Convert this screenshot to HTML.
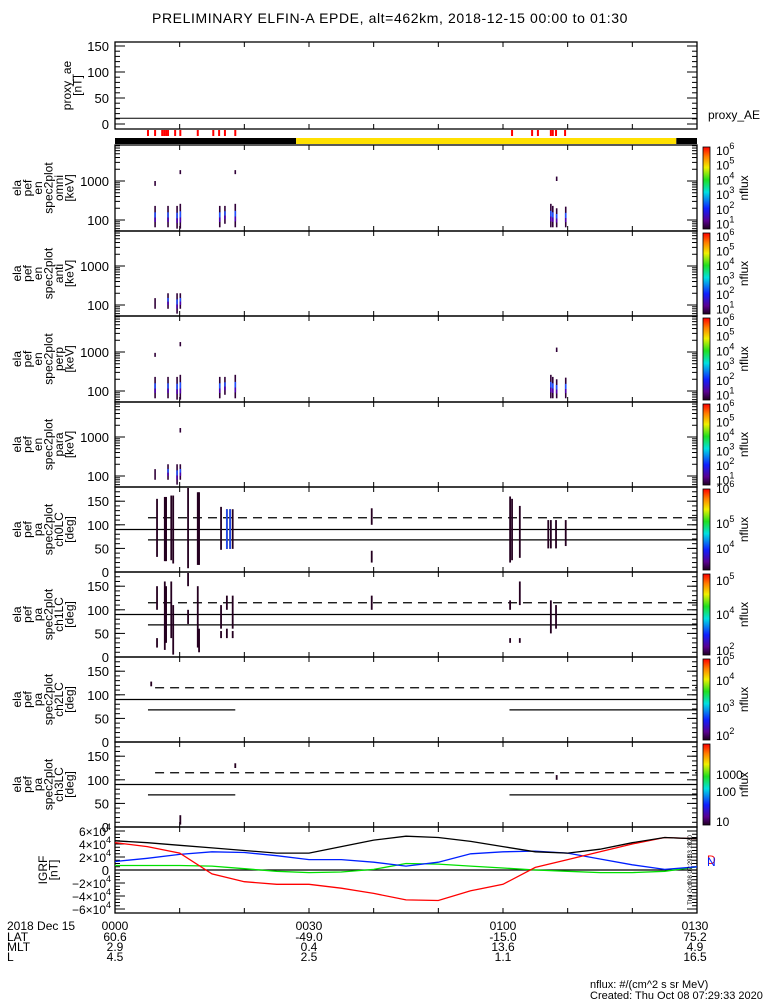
<!DOCTYPE html>
<html><head><meta charset="utf-8">
<style>
body{margin:0;background:#fff;overflow:hidden;}
svg{display:block;font-family:"Liberation Sans",sans-serif;}
</style></head>
<body>
<svg id="chart" width="775" height="1000" viewBox="0 0 775 1000" xmlns="http://www.w3.org/2000/svg">
<defs>
<linearGradient id="cmap" x1="0" y1="1" x2="0" y2="0">
<stop offset="0" stop-color="#200020"/><stop offset="0.1" stop-color="#5a0090"/><stop offset="0.25" stop-color="#1020ff"/>
<stop offset="0.45" stop-color="#00e0e0"/><stop offset="0.6" stop-color="#20e020"/><stop offset="0.75" stop-color="#f0f000"/>
<stop offset="0.88" stop-color="#ff8000"/><stop offset="1" stop-color="#ff0000"/>
</linearGradient>
<clipPath id="igrfclip"><rect x="115" y="827" width="582" height="86"/></clipPath>
</defs>
<text x="390" y="23" font-size="14" text-anchor="middle" letter-spacing="0.6">PRELIMINARY ELFIN-A EPDE, alt=462km, 2018-12-15 00:00 to 01:30</text>
<g id="g"></g>
</svg>
<script>
// ---- data ----
const timeTicks = [0,30,60,90];
const timeLabels = ["0000","0030","0100","0130"];
const latLabels = ["60.6","-49.0","-15.0","75.2"];
const mltLabels = ["2.9","0.4","13.6","4.9"];
const lLabels = ["4.5","2.5","1.1","16.5"];
const aeValue = 11;
const sciZoneTimes = [5.1,6.2,7.3,7.6,7.9,8.2,9.3,10.1,12.8,15.2,16.1,17.0,18.6,61.4,64.5,65.4,67.4,67.7,68.2,69.6];
const barSegStart = [0,28,86.8];
const barSegEnd = [28,86.8,90];
const barSegColor = ["#000","#ffe000","#000"];
const omniSpikes = [[6.2,65,230],[6.2,750,1000],[8.2,65,230],[9.6,60,230],[10.1,60,260],[10.1,1500,1900],[16.2,65,230],[17.0,80,230],[18.6,65,260],[18.6,1500,1900],[67.4,65,260],[67.7,65,230],[68.3,1000,1300],[68.3,65,200],[69.7,65,220]];
const antiSpikes = [[6.2,80,150],[8.2,80,200],[9.6,60,200],[10.1,80,200]];
const perpSpikes = [[6.2,65,230],[6.2,750,950],[8.2,65,230],[9.6,60,230],[10.1,60,260],[10.1,1400,1800],[16.2,65,230],[17.0,80,230],[18.6,65,260],[67.4,65,260],[67.7,65,230],[68.3,1000,1300],[68.3,65,200],[69.7,65,220]];
const paraSpikes = [[6.2,80,150],[8.2,80,200],[9.6,60,200],[10.1,80,200],[10.1,1300,1700]];
const ch0Spikes = [[6.5,32,155],[7.7,23,159],[7.9,23,159],[8.7,25,162],[9.0,18,162],[11.3,8,178],[12.8,15,169],[13.0,15,169],[16.4,47,138],[17.3,49,133],[17.8,49,133],[18.2,49,133],[39.7,100,135],[39.7,20,45],[61.1,20,160],[61.4,25,155],[62.6,30,140],[67.0,50,110],[67.4,50,110],[68.2,50,110],[69.7,55,110]];
const ch1Spikes = [[6.5,100,150],[6.5,20,40],[7.7,15,160],[7.9,30,150],[8.7,40,160],[9.0,5,110],[11.3,150,178],[11.3,70,100],[12.8,20,150],[13.0,10,60],[16.4,60,110],[16.4,40,55],[17.3,100,130],[17.3,40,60],[18.2,60,130],[18.2,40,55],[39.7,100,130],[61.1,30,40],[61.1,100,120],[62.6,30,40],[62.6,110,160],[67.4,50,120],[68.2,60,110]];
const ch2Spikes = [[5.6,118,128]];
const ch3Spikes = [[10.1,5,25],[18.6,125,135],[68.3,100,110]];
const paLines = [
 {lossStart:[5.1],lossEnd:[90],dashStart:5.1},
 {lossStart:[5.1],lossEnd:[90],dashStart:5.1},
 {lossStart:[5.1,61],lossEnd:[18.6,90],dashStart:6.2},
 {lossStart:[5.1,61],lossEnd:[18.6,90],dashStart:6.2}];
const lossConePA = 68, trappedPA = 115;
const igrfTimes = [0,5,10,15,20,25,30,35,40,45,50,55,60,65,70,75,80,85,90];
const igrfTotal = [4.5,4.2,3.8,3.4,3.0,2.6,2.6,3.6,4.6,5.2,5.0,4.4,3.6,2.8,2.6,3.2,4.2,5.0,4.8];
const igrfD = [4.2,3.6,2.6,-0.6,-1.8,-2.2,-2.2,-2.8,-3.6,-4.6,-4.7,-3.2,-2.2,0.4,1.6,2.8,4.0,5.0,4.8];
const igrfN = [1.3,1.8,2.4,2.8,2.7,2.2,1.6,1.6,1.2,0.6,1.2,2.5,2.8,2.9,2.6,1.7,0.8,0.1,0.5];
const igrfE = [0.7,0.7,0.7,0.6,0.2,-0.2,-0.4,-0.3,0.1,1.0,0.9,0.6,0.3,0.0,-0.2,-0.4,-0.4,-0.2,0.5];

// ---- geometry ----
const X0=115, X1=697;
const xT = t => X0 + t*(X1-X0)/90;
const g = document.getElementById('g');
const NS='http://www.w3.org/2000/svg';
function el(tag, attrs, parent){const e=document.createElementNS(NS,tag);for(const k in attrs)e.setAttribute(k,attrs[k]);(parent||g).appendChild(e);return e;}
function line(x1,y1,x2,y2,stroke,w,extra){return el('line',Object.assign({x1,y1,x2,y2,stroke:stroke||'#000','stroke-width':w||1},extra||{}));}
function txt(x,y,s,size,anchor,parent){const t=el('text',{x,y,'font-size':size||12,'text-anchor':anchor||'start'},parent);t.textContent=s;return t;}

function frame(top,bot,name){
  const r=el('rect',{x:X0,y:top,width:X1-X0,height:bot-top,fill:'none',stroke:'#000','stroke-width':1.3});
  
  
  for(let t=0;t<=90;t+=10){const x=xT(t);line(x,bot,x,bot-5);line(x,top,x,top+5);}
}
function rotLabel(lines,cx,cy,name){
  const gg=el('g',{transform:`translate(${cx},${cy}) rotate(-90)`});
  
  
  const n=lines.length;
  lines.forEach((s,i)=>{txt(0,(i-(n-1)/2)*10.5+4,s,12,'middle',gg);});
}
function yTicks(top,bot,yf,majors,minors,labelFn){
  minors.forEach(v=>{const y=yf(v);if(y<top-0.5||y>bot+0.5)return;line(X0,y,X0+5,y);line(X1,y,X1-5,y);});
  majors.forEach(v=>{const y=yf(v);line(X0,y,X0+10,y);line(X1,y,X1-10,y);labelFn(v,y);});
}
function cbar(top,bot,labels,name){
  const r=el('rect',{x:703,y:top+2,width:7,height:bot-top-4,fill:'url(#cmap)',stroke:'#000','stroke-width':0.8});
  
  
  labels.forEach(([s,e,y])=>{const t=el('text',{x:716,y:y,'font-size':12});t.textContent=s;if(e){const sp=el('tspan',{dy:-6,'font-size':9},t);sp.textContent=e;}});
  const gg=el('g',{transform:`translate(748,${(top+bot)/2}) rotate(-90)`});
  txt(0,0,'nflux',12,'middle',gg);
}

// ---- proxy AE ----
{const top=42,bot=129;const yf=v=>124-v*0.52;
 frame(top,bot,'proxy-ae-panel');
 const mins=[];for(let v=0;v<=150;v+=10)mins.push(v);
 yTicks(top,bot,yf,[0,50,100,150],mins,(v,y)=>txt(X0-6,y+5,String(v),13,'end'));
 const l=line(X0,yf(aeValue),X1,yf(aeValue),'#000',1);
 
 
 txt(708,119,'proxy_AE',12);
 rotLabel(['proxy_ae','[nT]'],72,(top+bot)/2,'proxy-ae-axis-title');
}
sciZoneTimes.forEach(t=>{const r=el('rect',{x:xT(t)-1,y:130,width:2,height:6,fill:'#ff0000'});});
barSegStart.forEach((s,i)=>{const r=el('rect',{x:xT(s),y:138,width:xT(barSegEnd[i])-xT(s),height:6,fill:barSegColor[i]});});

// ---- energy spectra ----
const specPanels=[[145,231,omniSpikes,'omni'],[231,316,antiSpikes,'anti'],[316,402,perpSpikes,'perp'],[402,487,paraSpikes,'para']];
const expLabels=[['10','6',0],['10','5',1],['10','4',2],['10','3',3],['10','2',4],['10','1',5]];
specPanels.forEach(([top,bot,spikes,nm])=>{
  const yf=E=>bot-11-(Math.log10(E)-2)*39;
  frame(top,bot,'spec-'+nm+'-panel');
  const mins=[];[10,100,1000].forEach(d=>{for(let k=2;k<10;k++)mins.push(d*k);});
  yTicks(top,bot,yf,[100,1000],mins.filter(v=>v>50),(v,y)=>txt(X0-6,y+5,String(v),13,'end'));
  spikes.forEach(([t,lo,hi])=>{
    const x=xT(t),y1=yf(hi),y2=yf(lo),h=y2-y1;
    const a=el('rect',{x:x-0.8,y:y1,width:1.6,height:h,fill:'#300038'});
    
    
    if(h>14){el('rect',{x:x-0.8,y:y1+h*0.3,width:1.6,height:h*0.25,fill:'#2050ff'});el('rect',{x:x-0.8,y:y1+h*0.55,width:1.6,height:h*0.2,fill:'#5000b0'});}
  });
  rotLabel(['ela','pef','en','spec2plot',nm,'[keV]'],43,(top+bot)/2,'spec-'+nm+'-axis-title');
  const step=(bot-top-8)/5.3;
  cbar(top,bot,expLabels.map(([b,e,i])=>[b,e,top+10+i*step]),'spec-'+nm);
});

// ---- pitch angle ----
const paPanels=[[487,572,ch0Spikes,'ch0LC'],[572,657,ch1Spikes,'ch1LC'],[657,742,ch2Spikes,'ch2LC'],[742,827,ch3Spikes,'ch3LC']];
const paCbarLabels=[
 [['10','6',493],['10','5',528],['10','4',553]],
 [['10','5',585],['10','4',619],['10','2',655]],
 [['10','5',665],['10','4',685],['10','3',712],['10','2',740]],
 [['1000','',779],['100','',796],['10','',826]]];
paPanels.forEach(([top,bot,spikes,nm],pi)=>{
  const yf=p=>bot-p*0.472;
  frame(top,bot,'pa-'+nm+'-panel');
  const mins=[];for(let v=0;v<=180;v+=10)mins.push(v);
  yTicks(top,bot,yf,[0,50,100,150],mins,(v,y)=>txt(X0-6,y+5,String(v),13,'end'));
  const L=paLines[pi];
  line(X0,yf(90),X1,yf(90),'#000',1.2);
  line(xT(L.dashStart),yf(trappedPA),X1,yf(trappedPA),'#000',1.2,{'stroke-dasharray':'9,6'});
  L.lossStart.forEach((s,i)=>line(xT(s),yf(lossConePA),xT(L.lossEnd[i]),yf(lossConePA),'#000',1.2));
  spikes.forEach(([t,lo,hi])=>{
    const r=el('rect',{x:xT(t)-0.9,y:yf(hi),width:1.8,height:yf(lo)-yf(hi),fill:'#250020'});
    
    
  });
  rotLabel(['ela','pef','pa','spec2plot',nm,'[deg]'],43,(top+bot)/2,'pa-'+nm+'-axis-title');
  cbar(top,bot,paCbarLabels[pi],'pa-'+nm);
});
[17.3,17.8].forEach(t=>{const r=el('rect',{x:xT(t)-0.8,y:572-133*0.472,width:1.6,height:84*0.472,fill:'#2050ff'});});

// ---- IGRF ----
{const top=827,bot=913;const yf=v=>870-v*6.5;
 frame(top,bot,'igrf-panel');
 const mins=[];for(let v=-6;v<=6;v+=0.5)mins.push(v);
 yTicks(top,bot,yf,[-6,-4,-2,0,2,4,6],mins,(v,y)=>{
   if(v===0){txt(X0-6,y+5,'0',13,'end');return;}
   const t=el('text',{x:X0-9,y:y+5,'font-size':12,'text-anchor':'end'});
   t.textContent=(v<0?'\u2212':'')+Math.abs(v)+'\u00d710';
   const e=el('text',{x:X0-9,y:y-1,'font-size':9});e.textContent='4';
 });
 line(X0,yf(0),X1,yf(0),'#000',1.3);
 [[igrfE,'#00e000','igrf-east-line'],[igrfN,'#0020ff','igrf-north-line'],[igrfD,'#ff0000','igrf-down-line'],[igrfTotal,'#000','igrf-total-line']].forEach(([arr,c,nm])=>{
   const pts=arr.map((v,i)=>xT(igrfTimes[i]).toFixed(1)+','+yf(v).toFixed(1)).join(' ');
   const p=el('polyline',{points:pts,fill:'none',stroke:c,'stroke-width':1.3,'clip-path':'url(#igrfclip)'});
   
   
 });
 rotLabel(['IGRF','[nT]'],48,870,'igrf-axis-title');
 const d=el('text',{x:707,y:864,'font-size':12,fill:'#ff0000'});d.textContent='D';
 const nn=el('text',{x:707,y:868,'font-size':12,fill:'#0020ff'});nn.setAttribute('y','867');nn.textContent='';
 const n2=el('text',{x:707,y:867,'font-size':12,fill:'#0020ff'});n2.setAttribute('y','866');n2.textContent='';
 const n3=el('text',{x:707,y:866,'font-size':12,fill:'#0020ff'});n3.textContent='N';n3.setAttribute('y','866');n3.setAttribute('y','866');
 n3.setAttribute('y','866');
 n3.setAttribute('transform','translate(0,0)');
 n3.setAttribute('y','866');
 const gg=el('g',{transform:'translate(692,870) rotate(-90)'});txt(0,0,'Thu Oct 08 07:29:33 2020',6,'middle',gg);
}

// ---- bottom annotation ----
txt(7,930,'2018 Dec 15',12);txt(7,941,'LAT',12);txt(7,951,'MLT',12);txt(7,961,'L',12);
timeTicks.forEach((t,i)=>{const x=xT(t)-(i===3?2:0);
  txt(x,930,timeLabels[i],12,'middle');txt(x,941,latLabels[i],12,'middle');
  txt(x,951,mltLabels[i],12,'middle');txt(x,961,lLabels[i],12,'middle');});
txt(590,988,'nflux: #/(cm^2 s sr MeV)',11);
txt(590,999,'Created: Thu Oct 08 07:29:33 2020',11);
</script>
</body></html>
